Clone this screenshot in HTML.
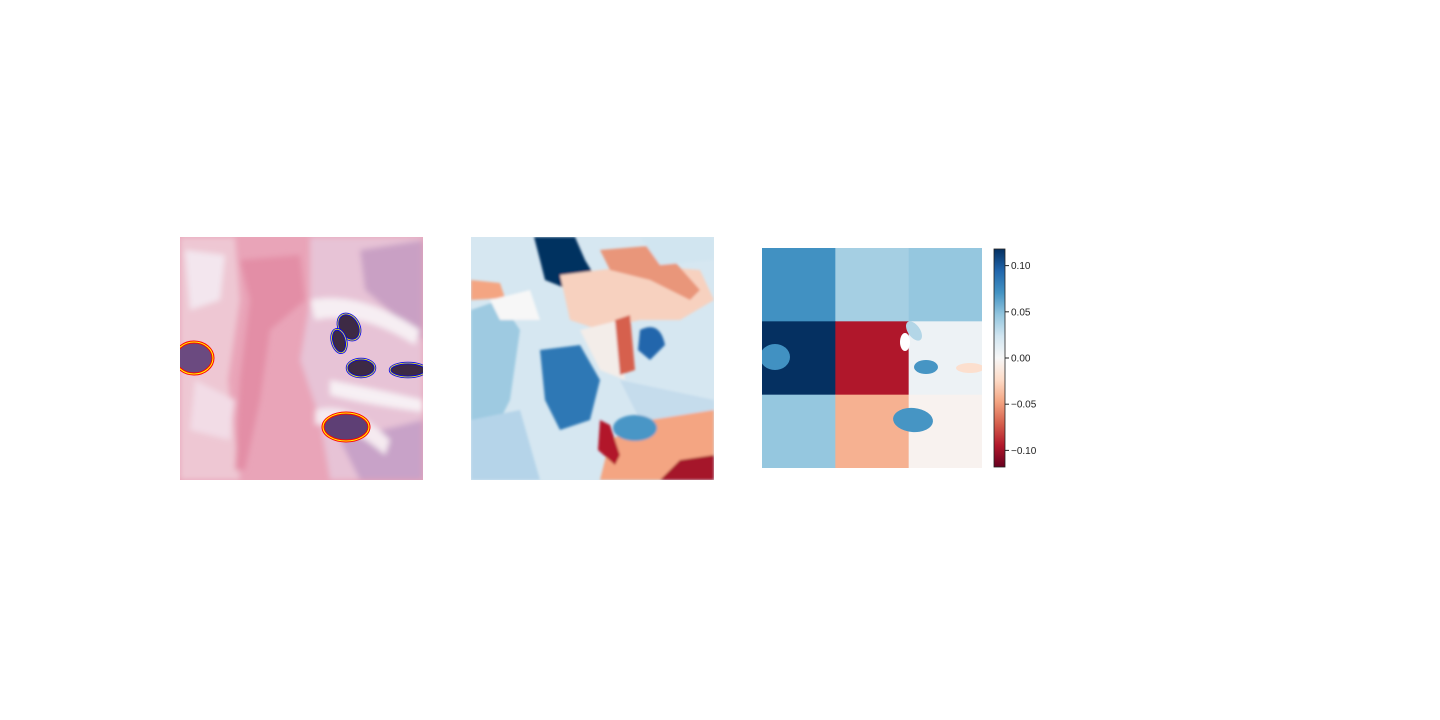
<!DOCTYPE html>
<html><head><meta charset="utf-8"><style>
body{margin:0;background:#fff;width:1440px;height:720px;overflow:hidden;font-family:"Liberation Sans",sans-serif}
</style></head><body>
<svg width="1440" height="720" style="position:absolute;left:0;top:0">
<defs>
<filter id="blur3"><feGaussianBlur stdDeviation="3"/></filter>
<filter id="blur1"><feGaussianBlur stdDeviation="1.2"/></filter>
<clipPath id="c1"><rect x="180" y="237" width="243" height="243"/></clipPath>
<clipPath id="c2"><rect x="471" y="237" width="243" height="243"/></clipPath>
<clipPath id="c3"><rect x="762" y="248" width="220" height="220"/></clipPath>
<linearGradient id="cbar" x1="0" y1="1" x2="0" y2="0">
<stop offset="0" stop-color="#67001f"/><stop offset="0.1" stop-color="#b2182b"/><stop offset="0.2" stop-color="#d6604d"/><stop offset="0.3" stop-color="#f4a582"/><stop offset="0.4" stop-color="#fddbc7"/><stop offset="0.5" stop-color="#f7f7f7"/><stop offset="0.6" stop-color="#d1e5f0"/><stop offset="0.7" stop-color="#92c5de"/><stop offset="0.8" stop-color="#4393c3"/><stop offset="0.9" stop-color="#2166ac"/><stop offset="1" stop-color="#053061"/>
</linearGradient>
</defs>

<g clip-path="url(#c1)">
<rect x="180" y="237" width="243" height="243" fill="#e9a4b8"/>
<g filter="url(#blur3)">
<path d="M180 237 L235 237 L240 300 L228 380 L240 480 L180 480Z" fill="#eec7d3"/>
<path d="M185 250 L225 255 L220 300 L190 310Z" fill="#f3e6ee"/>
<path d="M195 380 L235 400 L230 440 L190 430Z" fill="#f2dce6"/>
<path d="M310 237 L423 237 L423 480 L330 480 L320 420 L300 360 L310 300Z" fill="#e7c3d6"/>
<path d="M360 250 L423 240 L423 340 L400 320 L365 290Z" fill="#c9a0c4"/>
<path d="M340 440 L423 420 L423 480 L360 480Z" fill="#c8a2c8"/>
<path d="M310 300 Q360 290 420 330 L415 345 Q360 310 315 320Z" fill="#f6eef3"/>
<path d="M330 380 Q380 390 423 400 L423 412 Q370 405 330 395Z" fill="#f7f0f4"/>
<path d="M315 410 Q350 400 390 440 L385 455 Q345 420 315 425Z" fill="#f5eaf0"/>
<path d="M240 260 L300 255 L305 300 L270 330 L260 400 L245 470 L235 470 L240 380 L250 300Z" fill="#e38ea6"/>
</g>
<g>
<ellipse cx="194" cy="358" rx="19" ry="16" fill="#6b4a80" stroke="red" stroke-width="3"/>
<ellipse cx="194" cy="358" rx="19" ry="16" fill="none" stroke="yellow" stroke-width="1"/>
<ellipse cx="346" cy="427" rx="23" ry="14" fill="#5e3f75" stroke="red" stroke-width="3"/>
<ellipse cx="346" cy="427" rx="23" ry="14" fill="none" stroke="yellow" stroke-width="1"/>
<ellipse cx="349" cy="327" rx="10" ry="14" transform="rotate(-30 349 327)" fill="#3d2a45" stroke="blue" stroke-width="2.5"/>
<ellipse cx="349" cy="327" rx="10" ry="14" transform="rotate(-30 349 327)" fill="none" stroke="yellow" stroke-width="0.8"/>
<ellipse cx="339" cy="341" rx="7" ry="12" transform="rotate(-15 339 341)" fill="#3d2a45" stroke="blue" stroke-width="2.5"/>
<ellipse cx="339" cy="341" rx="7" ry="12" transform="rotate(-15 339 341)" fill="none" stroke="yellow" stroke-width="0.8"/>
<ellipse cx="361" cy="368" rx="14" ry="9" fill="#3d2a45" stroke="blue" stroke-width="2.5"/>
<ellipse cx="361" cy="368" rx="14" ry="9" fill="none" stroke="yellow" stroke-width="0.8"/>
<ellipse cx="408" cy="370" rx="18" ry="7" fill="#3d2a45" stroke="blue" stroke-width="2.5"/>
<ellipse cx="408" cy="370" rx="18" ry="7" fill="none" stroke="yellow" stroke-width="0.8"/>
</g>
</g>

<g clip-path="url(#c2)">
<rect x="471" y="237" width="243" height="243" fill="#d6e7f1"/>
<g filter="url(#blur1)">
<path d="M471 310 L500 300 L520 330 L510 400 L490 440 L471 430Z" fill="#9ecae1"/>
<path d="M471 420 L520 410 L540 480 L471 480Z" fill="#b5d4e9"/>
<path d="M471 280 L500 283 L505 298 L471 300Z" fill="#f4a582"/>
<path d="M534 237 L575 237 L585 260 L600 285 L570 290 L545 280 L540 260Z" fill="#053061"/>
<path d="M560 275 L640 265 L700 270 L714 300 L680 320 L640 320 L600 330 L570 320Z" fill="#f7d1bf"/>
<path d="M600 250 L660 245 L700 290 L690 300 L650 280 L610 270Z" fill="#e9967a"/>
<path d="M540 350 L580 345 L600 380 L590 420 L560 430 L545 400Z" fill="#2f78b5"/>
<path d="M580 330 L620 320 L625 380 L600 370Z" fill="#f3ede9"/>
<path d="M615 320 L630 315 L635 370 L620 375Z" fill="#d6604d"/>
<path d="M640 330 Q660 320 665 345 L650 360 L638 350Z" fill="#2166ac"/>
<path d="M620 380 L714 400 L714 430 L640 420Z" fill="#c5dcec"/>
<path d="M650 420 L714 410 L714 480 L600 480 L610 440Z" fill="#f4a582"/>
<ellipse cx="635" cy="428" rx="22" ry="13" fill="#4a96c6"/>
<path d="M600 420 L610 425 L620 455 L615 465 L598 450Z" fill="#b2182b"/>
<path d="M680 460 L714 455 L714 480 L660 480Z" fill="#a51429"/>
<path d="M490 300 L530 290 L540 320 L500 320Z" fill="#f7f7f7"/>
<path d="M640 237 L714 237 L714 260 L660 265Z" fill="#d1e5f0"/>
</g>
</g>

<g clip-path="url(#c3)" id="heat"></g>
<g id="overlays" clip-path="url(#c3)"></g>

<g>
<rect x="994" y="249" width="11" height="218" fill="url(#cbar)" stroke="#222" stroke-width="0.8"/>
<g id="cticks"></g>
</g>
</svg>
<script>
const rows = [0,1,2];
const cols = [0,1,2];
const values = [
 [0.072, 0.040, 0.046],
 [0.118, -0.095, 0.006],
 [0.046, -0.042, -0.004]
];
const tickValues = [0.10, 0.05, 0.00, -0.05, -0.10];
const tickLabels = ["0.10","0.05","0.00","\u22120.05","\u22120.10"];
const vmin = -0.118, vmax = 0.118;
const stops = ["#67001f","#b2182b","#d6604d","#f4a582","#fddbc7","#f7f7f7","#d1e5f0","#92c5de","#4393c3","#2166ac","#053061"];
function hex(h){return [1,3,5].map(i=>parseInt(h.substr(i,2),16));}
function cmap(v){
  let t=(v-vmin)/(vmax-vmin); t=Math.max(0,Math.min(1,t))*10;
  let i=Math.min(9,Math.floor(t)), f=t-i; const a=hex(stops[i]), b=hex(stops[i+1]);
  return "rgb("+a.map((x,k)=>Math.round(x+(b[k]-x)*f)).join(",")+")";
}
const ns="http://www.w3.org/2000/svg";
const X0=762,Y0=248,W=220,H=220;
const xScale=c=>X0+c*W/3, yScale=r=>Y0+r*H/3;
const heat=document.getElementById('heat');
rows.forEach(r=>cols.forEach(c=>{
  const e=document.createElementNS(ns,'rect');
  e.setAttribute('x',xScale(c));e.setAttribute('y',yScale(r));
  e.setAttribute('width',W/3+0.5);e.setAttribute('height',H/3+0.5);
  e.setAttribute('fill',cmap(values[r][c]));
  
  
  heat.appendChild(e);
}));
const ov=document.getElementById('overlays');
[[775,357,15,13,0,0.072],[913,420,20,12,5,0.07],[926,367,12,7,0,0.07],[970,368,14,5,0,-0.02],[914,331,6,11,-35,0.035],[905,342,5,9,0,0.0]].forEach(o=>{
  const e=document.createElementNS(ns,'ellipse');
  e.setAttribute('cx',o[0]);e.setAttribute('cy',o[1]);e.setAttribute('rx',o[2]);e.setAttribute('ry',o[3]);
  e.setAttribute('transform','rotate('+o[4]+' '+o[0]+' '+o[1]+')');
  e.setAttribute('fill',o[5]===0?'#ffffff':cmap(o[5]));
  
  
  ov.appendChild(e);
});
const ct=document.getElementById('cticks');
const cy=v=>249+(vmax-v)/(vmax-vmin)*218;
tickValues.forEach((v,i)=>{
  const l=document.createElementNS(ns,'line');
  l.setAttribute('x1',1005);l.setAttribute('x2',1009);l.setAttribute('y1',cy(v));l.setAttribute('y2',cy(v));
  l.setAttribute('stroke','#222');
  
  
  ct.appendChild(l);
  const t=document.createElementNS(ns,'text');
  t.setAttribute('x',1011);t.setAttribute('y',cy(v)+3.5);t.setAttribute('font-size','10');
  t.setAttribute('fill','#222');t.textContent=tickLabels[i];
  
  
  ct.appendChild(t);
});
</script>
</body></html>
